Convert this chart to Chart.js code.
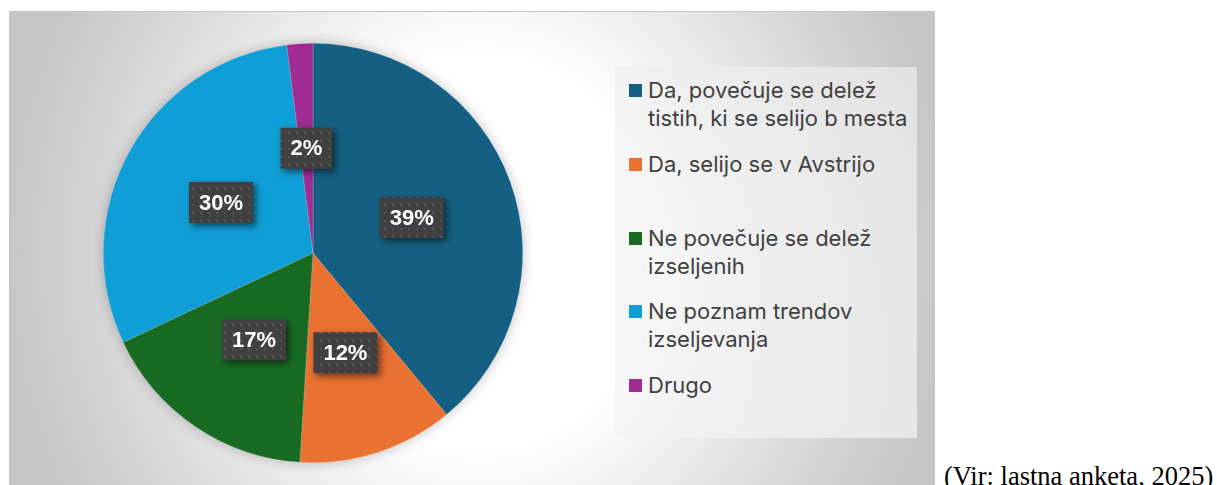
<!DOCTYPE html>
<html>
<head>
<meta charset="utf-8">
<script src="https://cdn.jsdelivr.net/npm/chart.js@4.4.1/dist/chart.umd.min.js"></script>
<style>
  html, body { margin: 0; padding: 0; background: #fff; }
  body { width: 1217px; height: 485px; position: relative; overflow: hidden; }
  #panel {
    position: absolute; left: 9px; top: 11px; width: 926px; height: 480px;
    background: radial-gradient(ellipse 470px 520px at 470px 240px,
        #ffffff 0%, #ffffff 38%, #e8e8e8 62%, #d7d7d7 80%, #c6c6c6 100%);
    border-top: 1px solid #c4c4c4;
  }
  #pieWrap { position: absolute; left: 84px; top: 21px; width: 440px; height: 440px; }
  #legend {
    position: absolute; left: 606px; top: 55px; width: 302px; height: 371px;
    background: linear-gradient(160deg, rgba(238,238,238,0.65) 0%, rgba(244,244,244,0.7) 100%);
    font-family: "Inter", "Noto Sans", sans-serif; font-size: 22px; color: #404040;
    box-sizing: border-box; padding-top: 9px;
  }
  .item { position: relative; height: 73.75px; padding-left: 33px; }
  .item .sw { position: absolute; left: 14px; top: 8px; width: 13px; height: 13px; }
  .item .ln { line-height: 28px; height: 28px; white-space: nowrap; }
  #caption {
    position: absolute; left: 944px; top: 461px;
    font-family: "Liberation Serif", "Times New Roman", serif; font-size: 26.5px; color: #000;
    white-space: nowrap;
  }
</style>
</head>
<body>
<div id="panel">
  <div id="pieWrap"><canvas id="pie" width="440" height="440"></canvas></div>
  <div id="legend"></div>
</div>
<div id="caption">(Vir: lastna anketa, 2025)</div>

<script>
// ----------------------- data -----------------------

const categories = [
    ["Da, povečuje se delež", "tistih, ki se selijo b mesta"],
    ["Da, selijo se v Avstrijo"],
    ["Ne povečuje se delež", "izseljenih"],
    ["Ne poznam trendov", "izseljevanja"],
    ["Drugo"]
];
const shares = [39, 12, 17, 30, 2];
const sliceColors = ["#156082", "#E97132", "#196B24", "#0F9ED5", "#A02B93"];

// ----------------------- helpers -----------------------

// dotted dark fill like the Office label boxes
function makeDotPattern(ctx) {
    const c = document.createElement("canvas");
    c.width = 8; c.height = 8;
    const p = c.getContext("2d");
    p.fillStyle = "#404040";
    p.fillRect(0, 0, 8, 8);
    p.fillStyle = "#555555";
    p.fillRect(3, 3, 2, 2);
    return ctx.createPattern(c, "repeat");
}

// soft halo behind the pie
const pieShadow = {
    id: "pieShadow",
    beforeDatasetsDraw(chart) {
        const arc = chart.getDatasetMeta(0).data[0];
        if (!arc) return;
        const ctx = chart.ctx;
        ctx.save();
        ctx.shadowColor = "rgba(0,0,0,0.28)";
        ctx.shadowBlur = 14;
        ctx.fillStyle = "#888";
        ctx.beginPath();
        ctx.arc(arc.x, arc.y, arc.outerRadius - 1, 0, Math.PI * 2);
        ctx.fill();
        ctx.restore();
    }
};

const labelBoxes = {
    id: "labelBoxes",
    afterDatasetsDraw(chart) {
        const ctx = chart.ctx;
        const meta = chart.getDatasetMeta(0);
        const data = chart.data.datasets[0].data;
        const total = data.reduce((s, v) => s + v, 0);
        const pattern = makeDotPattern(ctx);

        ctx.save();
        ctx.font = "bold 22px 'Liberation Sans', Arial, sans-serif";
        ctx.textAlign = "center";
        ctx.textBaseline = "middle";

        meta.data.forEach((arc, i) => {
            const pos = arc.tooltipPosition();
            const text = Math.round(data[i] / total * 100) + "%";
            const w = ctx.measureText(text).width + 20;
            const h = 41;
            const x = pos.x - w / 2;
            const y = pos.y - h / 2;

            ctx.save();
            ctx.shadowColor = "rgba(0,0,0,0.55)";
            ctx.shadowBlur = 7;
            ctx.shadowOffsetX = 3;
            ctx.shadowOffsetY = 3;
            ctx.fillStyle = pattern;
            ctx.fillRect(x, y, w, h);
            ctx.restore();

            ctx.fillStyle = "#ffffff";
            ctx.fillText(text, pos.x, pos.y + 1);
        });
        ctx.restore();
    }
};

// ----------------------- chart -----------------------

const pieChart = new Chart(document.getElementById("pie"), {
    type: "pie",
    data: {
        labels: categories,
        datasets: [{
            data: shares,
            backgroundColor: sliceColors,
            borderColor: "rgba(255,255,255,0.35)",
            borderWidth: 0.5,
        }]
    },
    options: {
        responsive: false,
        animation: false,
        layout: { padding: 10 },
        plugins: {
            legend: { display: false },
            tooltip: { enabled: false }
        }
    },
    plugins: [pieShadow, labelBoxes]
});

// ----------------------- legend -----------------------

function buildLegend(chart) {
    const box = document.getElementById("legend");
    chart.data.labels.forEach((lines, i) => {
        const item = document.createElement("div");
        item.className = "item";
        const sw = document.createElement("div");
        sw.className = "sw";
        sw.style.background = chart.data.datasets[0].backgroundColor[i];
        item.appendChild(sw);
        lines.forEach(t => {
            const ln = document.createElement("div");
            ln.className = "ln";
            ln.textContent = t;
            item.appendChild(ln);
        });
        box.appendChild(item);
    });
}

buildLegend(pieChart);
</script>
</body>
</html>
